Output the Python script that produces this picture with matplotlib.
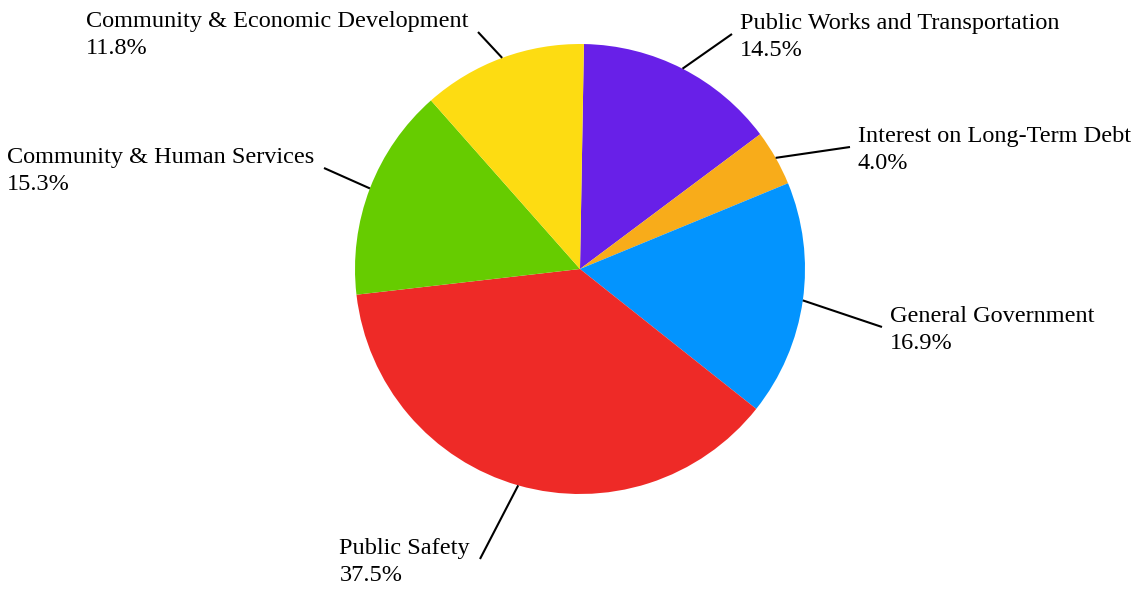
import matplotlib
matplotlib.use('Agg')
import matplotlib.pyplot as plt
import numpy as np

plt.rcParams['font.family'] = 'Liberation Serif'

# Expenditure shares by function (clockwise from the top)
categories = ['Public Works and Transportation', 'Interest on Long-Term Debt',
              'General Government', 'Public Safety',
              'Community & Human Services', 'Community & Economic Development']
shares = [14.5, 4.0, 16.9, 37.5, 15.3, 11.8]
colors = ['#6820E8', '#F8AC1A', '#0394FE', '#EE2A27', '#66CC00', '#FDDC12']

# label anchor (end of leader line, pixel coords) and which side the text sits on
label_ends = [(732, 34), (850, 147), (882, 327), (480, 559), (324, 168), (478, 32)]
label_side = ['right', 'right', 'right', 'left', 'left', 'left']

W, H = 1136, 590
CX, CY, R = 580, 269, 225


def flip(y):
    return H - y


fig = plt.figure(figsize=(W / 100, H / 100), dpi=100)
ax = fig.add_axes([0, 0, 1, 1])

wedges, _ = ax.pie(shares, colors=colors, startangle=89, counterclock=False,
                   center=(CX, flip(CY)), radius=R,
                   wedgeprops=dict(linewidth=0))

for w, name, val, (ex, ey), side in zip(wedges, categories, shares, label_ends, label_side):
    mid = np.deg2rad((w.theta1 + w.theta2) / 2)
    sx = CX + R * np.cos(mid)
    sy = flip(CY) + R * np.sin(mid)
    ax.plot([sx, ex], [sy, flip(ey)], color='black', lw=1.5, solid_capstyle='butt')
    txt = f'{name}\n{val:.1f}%'
    if side == 'right':
        ax.text(ex + 8, flip(ey) - 3, txt, ha='left', va='center',
                fontsize=17.5, linespacing=1.4, color='black')
    else:
        ax.text(ex - 10, flip(ey) - 3, txt, ha='right', va='center',
                multialignment='left', fontsize=17.5, linespacing=1.4, color='black')

ax.set_xlim(0, W)
ax.set_ylim(0, H)
ax.set_aspect('equal')
ax.axis('off')

fig.savefig('out.png', dpi=100)
